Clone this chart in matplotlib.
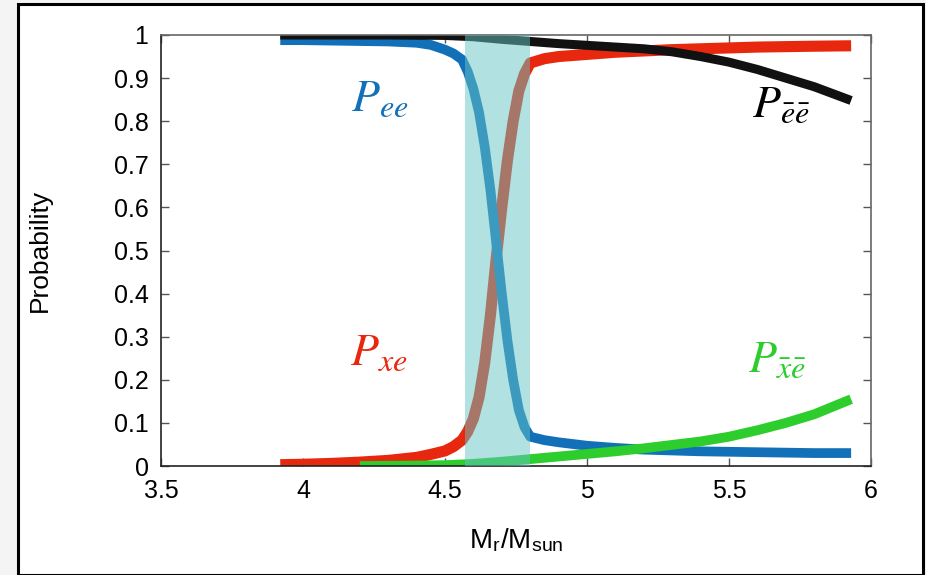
import matplotlib
matplotlib.use("Agg")
import matplotlib.pyplot as plt
from matplotlib.patches import Rectangle

plt.rcParams['font.family'] = ['Liberation Sans', 'DejaVu Sans']
plt.rcParams['mathtext.fontset'] = 'stix'

# ---- data ----
x_ee = [3.92, 4.0, 4.1, 4.2, 4.3, 4.4, 4.45, 4.5, 4.53, 4.56, 4.58, 4.60, 4.62, 4.64,
        4.66, 4.68, 4.70, 4.72, 4.74, 4.76, 4.78, 4.80, 4.85, 4.9, 5.0, 5.1, 5.2, 5.3,
        5.4, 5.5, 5.6, 5.7, 5.8, 5.93]
p_ee = [0.988, 0.988, 0.987, 0.986, 0.985, 0.982, 0.977, 0.966, 0.957, 0.943, 0.915, 0.875, 0.82, 0.74,
        0.64, 0.52, 0.40, 0.29, 0.20, 0.13, 0.09, 0.068, 0.06, 0.055, 0.047, 0.042, 0.038, 0.036,
        0.034, 0.033, 0.032, 0.031, 0.030, 0.030]

x_xe = x_ee
p_xe = [0.003, 0.004, 0.006, 0.009, 0.013, 0.02, 0.027, 0.035, 0.045, 0.06, 0.08, 0.11, 0.16, 0.24,
        0.35, 0.48, 0.60, 0.71, 0.80, 0.87, 0.91, 0.935, 0.945, 0.95, 0.955, 0.96, 0.963, 0.966,
        0.968, 0.97, 0.972, 0.973, 0.974, 0.975]

x_bar = [3.92, 4.3, 4.5, 4.6, 4.7, 4.8, 4.9, 5.0, 5.1, 5.2, 5.3, 5.4, 5.5, 5.6, 5.7, 5.8, 5.93]
p_ebeb = [1.0, 1.0, 0.999, 0.996, 0.99, 0.985, 0.98, 0.976, 0.972, 0.968, 0.961, 0.95, 0.937,
          0.92, 0.90, 0.88, 0.848]
x_xb = [4.2, 4.4, 4.5, 4.6, 4.7, 4.8, 4.9, 5.0, 5.1, 5.2, 5.3, 5.4, 5.5, 5.6, 5.7, 5.8, 5.93]
p_xbeb = [0.0, 0.001, 0.002, 0.005, 0.01, 0.016, 0.022, 0.028, 0.034, 0.041, 0.049, 0.057,
          0.068, 0.083, 0.10, 0.12, 0.155]

band = (4.57, 4.80)
xticks = [3.5, 4, 4.5, 5, 5.5, 6]
xticklabels = ['3.5', '4', '4.5', '5', '5.5', '6']
yticks = [0, 0.1, 0.2, 0.3, 0.4, 0.5, 0.6, 0.7, 0.8, 0.9, 1]
yticklabels = ['0', '0.1', '0.2', '0.3', '0.4', '0.5', '0.6', '0.7', '0.8', '0.9', '1']

BLUE = '#1170b8'
RED = '#e8280e'
BLACK = '#111111'
GREEN = '#2ccd2c'

W, H = 926, 575
fig = plt.figure(figsize=(W / 100, H / 100), dpi=100)
fig.patch.set_facecolor('#f4f4f4')
# outer frame box
fig.patches.append(Rectangle((18 / W, 0), (923 - 18) / W, (H - 4) / H, transform=fig.transFigure,
                             facecolor='white', edgecolor='black', linewidth=2.2, zorder=-10))

ax = fig.add_axes([161 / W, (H - 466) / H, (871 - 161) / W, (466 - 35) / H])
ax.set_zorder(1)
ax.set_xlim(3.5, 6)
ax.set_ylim(0, 1)

ax.plot(x_xe, p_xe, color=RED, lw=8, solid_capstyle='butt', zorder=2)
ax.plot(x_ee, p_ee, color=BLUE, lw=7, solid_capstyle='butt', zorder=2.1)
ax.plot(x_bar, p_ebeb, color=BLACK, lw=6.5, solid_capstyle='butt', zorder=2.2)
ax.plot(x_xb, p_xbeb, color=GREEN, lw=7, solid_capstyle='butt', zorder=2.3)

ax.axvspan(band[0], band[1], color='#65c5c5', alpha=0.5, lw=0, zorder=3)

ax.set_xticks(xticks)
ax.set_xticklabels(xticklabels)
ax.set_yticks(yticks)
ax.set_yticklabels(yticklabels)
ax.tick_params(direction='in', length=6, width=1, color='#555555', top=True, right=True,
               labelsize=18)
ax.tick_params(axis='x', pad=9)
ax.tick_params(axis='y', pad=9)
for s in ax.spines.values():
    s.set_color('#666666')
    s.set_linewidth(1.2)
ax.spines['left'].set_color('#222222')
ax.spines['bottom'].set_color('#222222')

ax.set_ylabel('Probability', fontsize=19)
ax.yaxis.set_label_coords(-0.153, 0.5)
ax.set_xlabel(r'M$_\mathregular{r}$/M$_\mathregular{sun}$', fontsize=20)
ax.xaxis.set_label_coords(0.5, -0.14)

ax.text(4.17, 0.823, r'$P_{ee}$', color=BLUE, fontsize=33, ha='left', va='baseline')
ax.text(4.165, 0.235, r'$P_{xe}$', color=RED, fontsize=33, ha='left', va='baseline')
ax.text(5.58, 0.81, r'$P_{\bar{e}\bar{e}}$', color='black', fontsize=33, ha='left', va='baseline')
ax.text(5.567, 0.218, r'$P_{\bar{x}\bar{e}}$', color=GREEN, fontsize=33, ha='left', va='baseline')

fig.savefig('out.png', dpi=100, facecolor=fig.get_facecolor())
